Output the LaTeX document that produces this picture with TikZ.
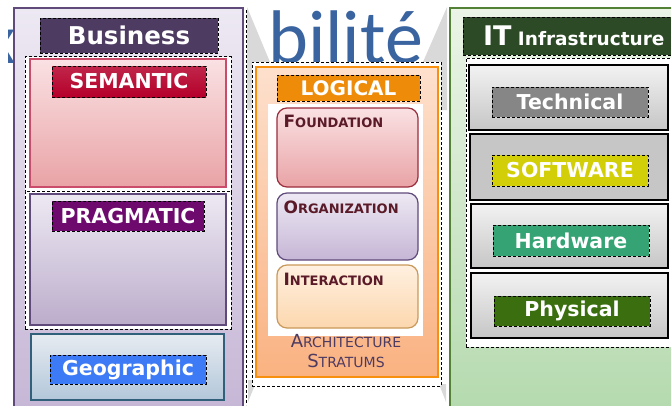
\documentclass[tikz,border=0pt]{standalone}
\usepackage{fontspec}
\setmainfont{DejaVu Sans}
\newfontfamily\calfont{Carlito}
\usetikzlibrary{positioning}

\definecolor{titleblue}{HTML}{3A64A0}
\definecolor{greybg}{HTML}{D9D9D9}
\definecolor{bizpurple}{HTML}{604A7B}
\definecolor{bizdark}{HTML}{4E3B62}
\definecolor{biztop}{HTML}{EDE9F3}
\definecolor{bizbottom}{HTML}{C6B6D6}
\definecolor{semred}{HTML}{B5002A}
\definecolor{semtop}{HTML}{FAE1E3}
\definecolor{sembottom}{HTML}{E9A3A6}
\definecolor{prgpurple}{HTML}{6E0A6E}
\definecolor{geoblue}{HTML}{3D7AF5}
\definecolor{geoedge}{HTML}{31607A}
\definecolor{geotop}{HTML}{E6EBF1}
\definecolor{geobottom}{HTML}{B3C7DA}
\definecolor{logorange}{HTML}{EE8C0A}
\definecolor{orgedge}{HTML}{F7900F}
\definecolor{logtop}{HTML}{FDE0CD}
\definecolor{logbottom}{HTML}{FAB281}
\definecolor{fndedge}{HTML}{9B2D3D}
\definecolor{intedge}{HTML}{C9995A}
\definecolor{inttop}{HTML}{FFF0E0}
\definecolor{intbottom}{HTML}{FCD7AE}
\definecolor{strtext}{HTML}{5A1A28}
\definecolor{itgreen}{HTML}{538135}
\definecolor{ittop}{HTML}{EBF4E7}
\definecolor{itbottom}{HTML}{B5DAAF}
\definecolor{itdark}{HTML}{2C4A25}
\definecolor{swyellow}{HTML}{D2CE08}
\definecolor{hwgreen}{HTML}{35A374}
\definecolor{phgreen}{HTML}{3B6E0F}

\newcommand{\capsa}[2]{{\fontsize{17}{17}\selectfont #1}{\fontsize{13}{13}\selectfont #2}}
\newcommand{\capsb}[2]{{\fontsize{18}{18}\selectfont #1}{\fontsize{14}{14}\selectfont #2}}

\begin{document}
\begin{tikzpicture}[
    x=1pt, y=-1pt,
    panel/.style={rectangle, draw, line width=1.2pt, inner sep=0pt},
    backing/.style={rectangle, draw=black, densely dashed, line width=0.5pt, fill=white, inner sep=0pt},
    tag/.style={rectangle, draw=black, densely dashed, line width=0.5pt, inner sep=0pt, minimum width=156pt, minimum height=30pt, text=white, font=\bfseries\fontsize{20.5}{22}\selectfont},
    stratum/.style={rectangle, rounded corners=10pt, draw, line width=1.2pt, minimum width=141pt, inner sep=0pt},
    stitle/.style={inner sep=0pt, text=strtext, font=\bfseries}
]
\useasboundingbox (0,0) rectangle (671,405);
\clip (0,0) rectangle (671,405);

% grey background between the columns
\fill[greybg] (247,7) -- (247,110) -- (290,110) -- cycle;
\fill[greybg] (447,7) -- (447,110) -- (402,110) -- cycle;
\fill[greybg] (248,380) -- (257,380) -- (248,402) -- cycle;
\fill[greybg] (439,384) -- (446,384) -- (446,402) -- cycle;

\node[anchor=base east, inner sep=0pt, text=titleblue, font=\calfont\fontsize{70}{70}\selectfont] (xfrag) at (16,63) {x};
\fill[white] (0,0) rectangle (8,405);
\node[anchor=base west, inner sep=0pt, text=titleblue, font=\calfont\fontsize{76}{76}\selectfont] (title) at (268,63) {bilit\'e};

% business column
\node[panel, draw=bizpurple, top color=biztop, bottom color=bizbottom, minimum width=229pt, minimum height=407pt] (biz) at (128.5,211.5) {};
\draw[densely dashed, line width=0.5pt] (246,10) -- (246,405);
\node[tag, fill=bizdark, minimum width=178pt, minimum height=35pt, font=\bfseries\fontsize{24.5}{26}\selectfont] (business) at (129,35.5) {Business};

\node[backing, minimum width=206pt, minimum height=135pt] (sembg) at (128,124) {};
\node[panel, draw=semred!70, top color=semtop, bottom color=sembottom, minimum width=196pt, minimum height=128pt] (semantic) at (128,123) {};
\node[tag, top color=semred!85, bottom color=semred, minimum width=154pt, minimum height=31pt] (semtag) at (129,81.5) {SEMANTIC};

\node[backing, minimum width=206pt, minimum height=138pt] (prgbg) at (128,260) {};
\node[panel, draw=bizpurple, top color=biztop, bottom color=bizbottom!95!black, minimum width=196pt, minimum height=131pt] (pragmatic) at (128,259.5) {};
\node[tag, fill=prgpurple, minimum width=152pt] (prgtag) at (128,216) {PRAGMATIC};

\node[panel, draw=geoedge, top color=geotop, bottom color=geobottom, minimum width=193pt, minimum height=66pt] (geographic) at (127.5,367) {};
\node[tag, fill=geoblue, minimum height=29pt] (geotag) at (128,369.5) {Geographic};

% logical column
\node[backing, minimum width=189pt, minimum height=324pt] (logbg) at (346.5,224) {};
\node[panel, draw=orgedge, top color=logtop, bottom color=logbottom, minimum width=182pt, minimum height=310pt] (logical) at (347,222) {};
\node[tag, fill=logorange, minimum width=143pt, minimum height=26pt, font=\bfseries\fontsize{20}{22}\selectfont] (logtag) at (348.5,88) {LOGICAL};
\node[rectangle, fill=white, minimum width=155pt, minimum height=232pt, inner sep=0pt] (strbg) at (345.5,219.5) {};

\node[stratum, draw=fndedge, top color=semtop, bottom color=sembottom, minimum height=79pt] (foundation) at (347.5,147.5) {};
\node[stitle, below right=8pt and 7pt of foundation.north west] (fndtitle) {\capsa{F}{OUNDATION}};
\node[stratum, draw=bizpurple, top color=biztop, bottom color=bizbottom, minimum height=67pt] (organization) at (347.5,226.5) {};
\node[stitle, below right=8pt and 7pt of organization.north west] (orgtitle) {\capsa{O}{RGANIZATION}};
\node[stratum, draw=intedge, top color=inttop, bottom color=intbottom, minimum height=63pt] (interaction) at (347.5,296.5) {};
\node[stitle, below right=8pt and 7pt of interaction.north west] (inttitle) {\capsa{I}{NTERACTION}};

\node[align=center, inner sep=0pt, text=bizdark, font=\fontsize{18}{20}\selectfont] (stratums) at (346,351) {\capsb{A}{RCHITECTURE}\\\capsb{S}{TRATUMS}};

% IT infrastructure column
\node[panel, draw=itgreen, top color=ittop, bottom color=itbottom, minimum width=225pt, minimum height=402pt] (infra) at (562.5,209) {};
\node[tag, fill=itdark, anchor=west, minimum width=212pt, minimum height=38pt, font=\bfseries\fontsize{18.5}{20}\selectfont] (ittag) at (463,36) {\hspace{9pt}{\fontsize{27}{27}\selectfont IT} Infrastructure\hfill};
\node[backing, minimum width=210pt, minimum height=289pt] (itbg) at (571,202.5) {};

\node[panel, draw=black, top color=gray!10, bottom color=gray!45, minimum width=199pt, minimum height=65pt] (technical) at (568.5,97.5) {};
\node[tag, fill=gray!95] (techtag) at (570,102) {Technical};
\node[panel, draw=black, fill=gray!45, minimum width=198pt, minimum height=66pt] (software) at (569,167) {};
\node[tag, fill=swyellow, minimum height=31pt] (swtag) at (570,170.5) {SOFTWARE};
\node[panel, draw=black, top color=gray!10, bottom color=gray!45, minimum width=197pt, minimum height=64pt] (hardware) at (569.5,236) {};
\node[tag, fill=hwgreen, minimum height=31pt] (hwtag) at (571,240.5) {Hardware};
\node[panel, draw=black, top color=gray!10, bottom color=gray!45, minimum width=197pt, minimum height=65pt] (physical) at (569.5,305.5) {};
\node[tag, fill=phgreen] (phtag) at (572,311) {Physical};

\end{tikzpicture}
\end{document}
